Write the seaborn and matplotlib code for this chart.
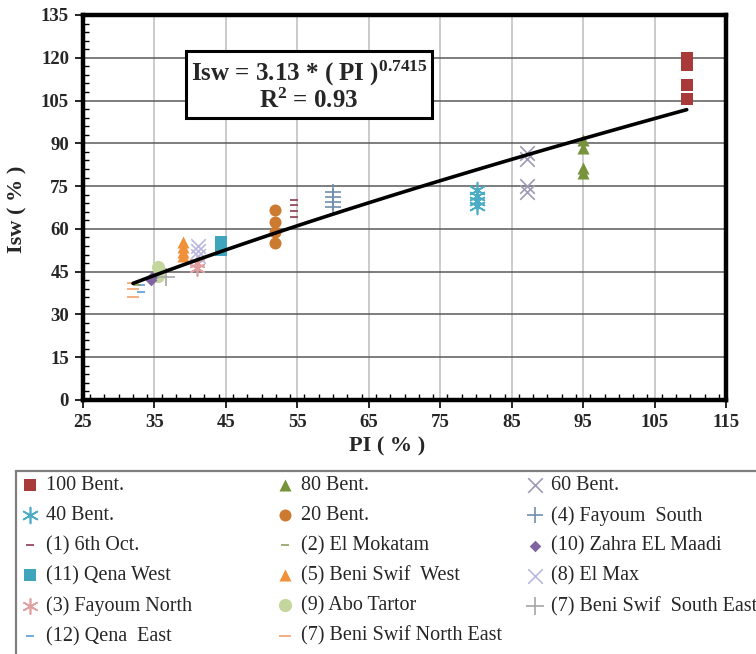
import numpy as np
import pandas as pd
import matplotlib
matplotlib.use("Agg")
import matplotlib.pyplot as plt
import seaborn as sns
from matplotlib.patches import Rectangle
from matplotlib.ticker import MultipleLocator, FixedLocator

sns.set_theme(style="white")
plt.rcParams['font.family'] = ['Liberation Serif', 'DejaVu Serif']
plt.rcParams['mathtext.fontset'] = 'custom'
plt.rcParams['mathtext.rm'] = 'Liberation Serif:bold'
plt.rcParams['mathtext.it'] = 'Liberation Serif:bold'
plt.rcParams['mathtext.bf'] = 'Liberation Serif:bold'

# ---------------- data ----------------
labels = ["100 Bent.", "40 Bent.", "(1) 6th Oct.", "(11) Qena West", "(3) Fayoum North", "(12) Qena  East",
          "80 Bent.", "20 Bent.", "(2) El Mokatam", "(5) Beni Swif  West", "(9) Abo Tartor", "(7) Beni Swif North East",
          "60 Bent.", "(4) Fayoum  South", "(10) Zahra EL Maadi", "(8) El Max", "(7) Beni Swif  South East"]

x_ticks = [25, 35, 45, 55, 65, 75, 85, 95, 105, 115]
y_ticks = [0, 15, 30, 45, 60, 75, 90, 105, 120, 135]

pi_100 = [109.5, 109.5, 109.5, 109.5]
isw_100 = [120.0, 117.5, 110.5, 105.5]
pi_80 = [95.0, 95.0, 95.0, 95.0]
isw_80 = [91.0, 88.5, 81.5, 79.5]
pi_60 = [87.2, 87.2, 87.2, 87.2]
isw_60 = [86.5, 84.5, 75.0, 73.0]
pi_40 = [80.2, 80.2, 80.2, 80.2]
isw_40 = [73.5, 71.5, 69.8, 68.0]
pi_20 = [51.9, 51.9, 51.9, 51.9]
isw_20 = [66.5, 62.5, 59.0, 55.2]
pi_fayoum_s = [60.0, 60.0, 60.0, 60.0]
isw_fayoum_s = [73.0, 71.3, 69.6, 67.6]
pi_6oct = [54.6, 54.6, 54.6, 54.6]
isw_6oct = [70.3, 68.4, 66.2, 64.0]
pi_mokatam = [32.6]
isw_mokatam = [40.5]
pi_zahra = [34.5, 34.6]
isw_zahra = [42.0, 43.0]
pi_qena_w = [44.3, 44.3]
isw_qena_w = [55.3, 52.5]
pi_bsw = [39.0, 39.0, 39.0, 39.0]
isw_bsw = [55.5, 53.8, 52.0, 50.4]
pi_elmax = [41.1, 41.1, 41.1]
isw_elmax = [54.0, 52.3, 50.5]
pi_fayoum_n = [40.9, 40.9]
isw_fayoum_n = [48.2, 46.4]
pi_abo = [35.5, 35.5]
isw_abo = [46.6, 43.6]
pi_bsse = [36.6]
isw_bsse = [43.0]
pi_qena_e = [33.1, 33.1]
isw_qena_e = [40.2, 37.7]
pi_bsne = [32.0, 32.0, 32.0]
isw_bsne = [40.9, 39.0, 36.0]

fit_a = 3.13
fit_b = 0.7415
fit_range = [32.0, 109.5]

series_pi = [pi_100, pi_40, pi_6oct, pi_qena_w, pi_fayoum_n, pi_qena_e,
             pi_80, pi_20, pi_mokatam, pi_bsw, pi_abo, pi_bsne,
             pi_60, pi_fayoum_s, pi_zahra, pi_elmax, pi_bsse]
series_isw = [isw_100, isw_40, isw_6oct, isw_qena_w, isw_fayoum_n, isw_qena_e,
              isw_80, isw_20, isw_mokatam, isw_bsw, isw_abo, isw_bsne,
              isw_60, isw_fayoum_s, isw_zahra, isw_elmax, isw_bsse]

# ---------------- styles ----------------
ASTER = (6, 2, 0)
styles = [
    dict(marker='s', color='#a93a3a', s=80),
    dict(marker=ASTER, color='#4bacc6', s=130),
    dict(marker='_', color='#8e3b50', s=40),
    dict(marker='s', color='#3fa5bd', s=85),
    dict(marker=ASTER, color='#e0a0a0', s=120),
    dict(marker='_', color='#5b9bd5', s=40),
    dict(marker='^', color='#77933c', s=75),
    dict(marker='o', color='#cc7a30', s=75),
    dict(marker='_', color='#8fa060', s=40),
    dict(marker='^', color='#f0913a', s=75),
    dict(marker='o', color='#c3d69b', s=90),
    dict(marker='_', color='#f2a26b', s=70),
    dict(marker='x', color='#a09ab8', s=110),
    dict(marker='+', color='#6f8fae', s=130),
    dict(marker='D', color='#8064a2', s=35),
    dict(marker='x', color='#b8b8e0', s=110),
    dict(marker='+', color='#a6a6a6', s=150),
]

fig = plt.figure(figsize=(7.56, 6.54), dpi=100)
ax = fig.add_axes([83/756, 1-400/654, 643/756, 385/654])

for name, xs, ys, st in zip(labels, series_pi, series_isw, styles):
    df = pd.DataFrame({"PI": xs, "Isw": ys})
    filled = st['marker'] in ('s', '^', 'o', 'D')
    kw = dict(linewidth=0) if filled else dict(linewidth=1.2)
    sns.scatterplot(data=df, x="PI", y="Isw", marker=st['marker'], color=st['color'],
                    s=st['s'], ax=ax, label=name, zorder=3, **kw)

fx = np.linspace(fit_range[0], fit_range[1], 100)
fit_df = pd.DataFrame({"PI": fx, "Isw": fit_a * fx ** fit_b})
sns.lineplot(data=fit_df, x="PI", y="Isw", color='black', linewidth=2.6, ax=ax, zorder=4)

handles, labs = ax.get_legend_handles_labels()
if ax.get_legend() is not None:
    ax.get_legend().remove()

ax.set_xlim(25, 115)
ax.set_ylim(0, 135)
ax.xaxis.set_major_locator(FixedLocator(x_ticks))
ax.xaxis.set_minor_locator(MultipleLocator(2))
ax.yaxis.set_major_locator(FixedLocator(y_ticks))
ax.yaxis.set_minor_locator(MultipleLocator(3))
ax.grid(False)
for v in x_ticks[1:-1]:
    ax.axvline(v, color='#bdbdbd', linewidth=1.1, zorder=1)
for v in y_ticks[1:-1]:
    ax.axhline(v, color='#5a5a5a', linewidth=1.1, zorder=1)

for sp in ax.spines.values():
    sp.set_visible(True)
    sp.set_color('black')
    sp.set_linewidth(3.2)
ax.tick_params(axis='both', which='major', direction='out', length=6, width=1.2, color='black',
               labelsize=13.5, pad=4, left=True, bottom=True)
ax.tick_params(axis='both', which='minor', direction='in', length=4, width=1.0, color='black',
               left=True, bottom=True)
for t in ax.get_xticklabels() + ax.get_yticklabels():
    t.set_fontweight('bold')

ax.set_xlabel("PI ( % )", fontsize=16, fontweight='bold')
ax.set_ylabel("Isw ( % )", fontsize=16, fontweight='bold')
ax.xaxis.set_label_coords((387-83)/643, -0.095)
ax.yaxis.set_label_coords(-(83-27)/643, 0.494)

ax.text((309-83)/643*90+25, 135*(400-86)/385,
        "Isw = 3.13 * ( PI )$^{0.7415}$\nR$^{2}$ = 0.93",
        ha='center', va='center', multialignment='center', fontsize=18, fontweight='bold',
        linespacing=1.05, zorder=6,
        bbox=dict(boxstyle='square,pad=0.2', facecolor='white', edgecolor='black', linewidth=2.2))

# legend box
fig.patches.append(Rectangle((16/756, -0.05), 760/756, 1-471/654+0.05, transform=fig.transFigure,
                             facecolor='white', edgecolor='#7f7f7f', linewidth=1.6, zorder=0))
col_x = [20, 275, 525]
for ci in range(3):
    hs = handles[ci*6:(ci+1)*6]
    ls = labs[ci*6:(ci+1)*6]
    fig.legend(hs, ls, loc='upper left', bbox_to_anchor=(col_x[ci]/756, 1-476/654),
               frameon=False, fontsize=14.5, handlelength=1.0, handletextpad=0.3,
               borderpad=0, borderaxespad=0, labelspacing=0.54, markerscale=1.0)

fig.savefig("out.png", dpi=100)
